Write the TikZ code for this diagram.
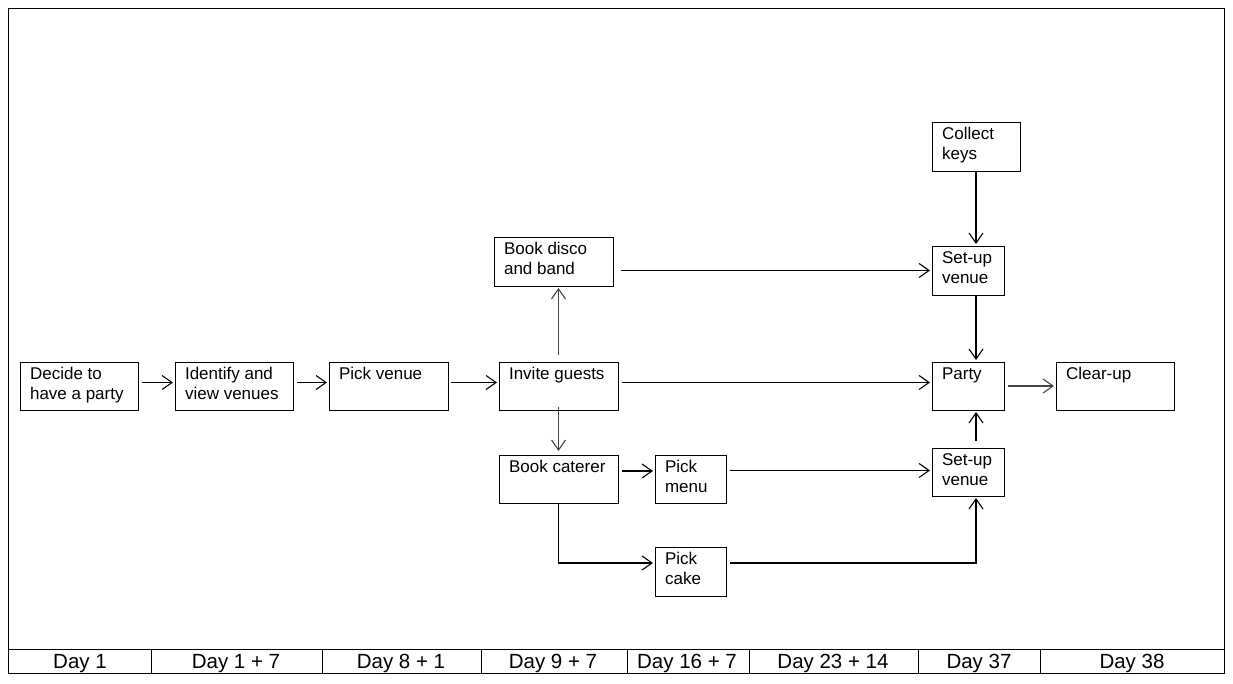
\documentclass[tikz,border=0pt]{standalone}
\usepackage{fontspec}
\setmainfont{Liberation Sans}
\usetikzlibrary{arrows.meta}
\definecolor{softline}{HTML}{454545}
\begin{document}
\begin{tikzpicture}[x=1pt,y=-1pt,line width=1.1pt,
  taskbox/.style={draw,line width=1pt,anchor=north west,inner sep=0pt,outer sep=0pt},
  tasktext/.style={anchor=north west,inner xsep=9.5pt,inner ysep=5pt,align=left,
    font=\fontsize{17}{20}\selectfont},
  flow/.style={-{Straight Barb[length=10pt,width=14pt,line width=1.1pt]},
    shorten <=4pt,shorten >=2pt},
  daytext/.style={font=\fontsize{20.5}{24}\selectfont,inner sep=0pt,anchor=base}]

\useasboundingbox (0,0) rectangle (1233,683);

% frame and timeline strip
\draw[line width=1pt] (8,8) rectangle (1224,673);
\draw[line width=1pt] (8,649) -- (1224,649);
\foreach \x in {151,322,481,627,749,918,1040}
  \draw[line width=1pt] (\x,649) -- (\x,673);
\node[daytext] (d1) at (80,668) {Day 1};
\node[daytext] (d2) at (236,668) {Day 1 + 7};
\node[daytext] (d3) at (401,668) {Day 8 + 1};
\node[daytext] (d4) at (553,668) {Day 9 + 7};
\node[daytext] (d5) at (687,668) {Day 16 + 7};
\node[daytext] (d6) at (833,668) {Day 23 + 14};
\node[daytext] (d7) at (979,668) {Day 37};
\node[daytext] (d8) at (1132,668) {Day 38};

% task boxes
\node[taskbox,minimum width=118pt,minimum height=48pt,
  label={[tasktext]north west:{Decide to\\have a party}}] (decide) at (20,362) {};
\node[taskbox,minimum width=118pt,minimum height=48pt,
  label={[tasktext]north west:{Identify and\\view venues}}] (identify) at (175,362) {};
\node[taskbox,minimum width=119pt,minimum height=48pt,
  label={[tasktext]north west:{Pick venue}}] (venue) at (329,362) {};
\node[taskbox,minimum width=119pt,minimum height=48pt,
  label={[tasktext]north west:{Invite guests}}] (invite) at (499,362) {};
\node[taskbox,minimum width=119pt,minimum height=49pt,
  label={[tasktext]north west:{Book disco\\and band}}] (disco) at (494,237) {};
\node[taskbox,minimum width=119pt,minimum height=48pt,
  label={[tasktext]north west:{Book caterer}}] (caterer) at (499,455) {};
\node[taskbox,minimum width=71pt,minimum height=48pt,
  label={[tasktext]north west:{Pick\\menu}}] (menu) at (655,455) {};
\node[taskbox,minimum width=71pt,minimum height=49pt,
  label={[tasktext]north west:{Pick\\cake}}] (cake) at (655,547) {};
\node[taskbox,minimum width=88pt,minimum height=49pt,
  label={[tasktext]north west:{Collect\\keys}}] (keys) at (932,122) {};
\node[taskbox,minimum width=72pt,minimum height=49pt,
  label={[tasktext]north west:{Set-up\\venue}}] (setupA) at (932,246) {};
\node[taskbox,minimum width=72pt,minimum height=48pt,
  label={[tasktext]north west:{Party}}] (party) at (932,362) {};
\node[taskbox,minimum width=118pt,minimum height=48pt,
  label={[tasktext]north west:{Clear-up}}] (clear) at (1056,362) {};
\node[taskbox,minimum width=72pt,minimum height=48pt,
  label={[tasktext]north west:{Set-up\\venue}}] (setupB) at (932,448) {};

% main chain
\draw[flow] ([yshift=3.5pt]decide.east) -- ([yshift=3.5pt]identify.west);
\draw[flow] ([yshift=3.5pt]identify.east) -- ([yshift=3.5pt]venue.west);
\draw[flow,shorten <=3pt] ([yshift=3.5pt]venue.east) -- ([yshift=3.5pt]invite.west);
\draw[flow] ([yshift=3.5pt]invite.east) -- ([yshift=3.5pt]party.west);
\draw[flow,softline] (party.east) -- (clear.west);

% branches from invite guests
\draw[flow,softline,shorten <=7pt] (invite.north) -- (disco.south -| invite.north);
\draw[flow,softline,shorten <=-3pt,shorten >=4pt] (invite.south) -- (caterer.north);
\draw[flow,shorten <=8pt] (disco.east |- setupA.west) -- (setupA.west);

% catering branch
\draw[flow] ([yshift=8pt]caterer.east) -- ([yshift=8pt]caterer.east -| menu.west);
\draw[flow,shorten <=0pt] (caterer.south) |- ([yshift=8.5pt]cake.west);
\draw[flow] ([yshift=8.5pt]menu.east) -- ([yshift=8.5pt]menu.east -| setupB.west);
\draw[flow] ([yshift=8.5pt]cake.east) -| (keys.south |- setupB.south);

% venue set-up into the party
\draw[flow,shorten <=0pt] (keys.south) -- (keys.south |- setupA.north);
\draw[flow,shorten <=0pt] (keys.south |- setupA.south) -- (keys.south |- party.north);
\draw[flow,shorten <=7pt] (keys.south |- setupB.north) -- (keys.south |- party.south);
\end{tikzpicture}
\end{document}
